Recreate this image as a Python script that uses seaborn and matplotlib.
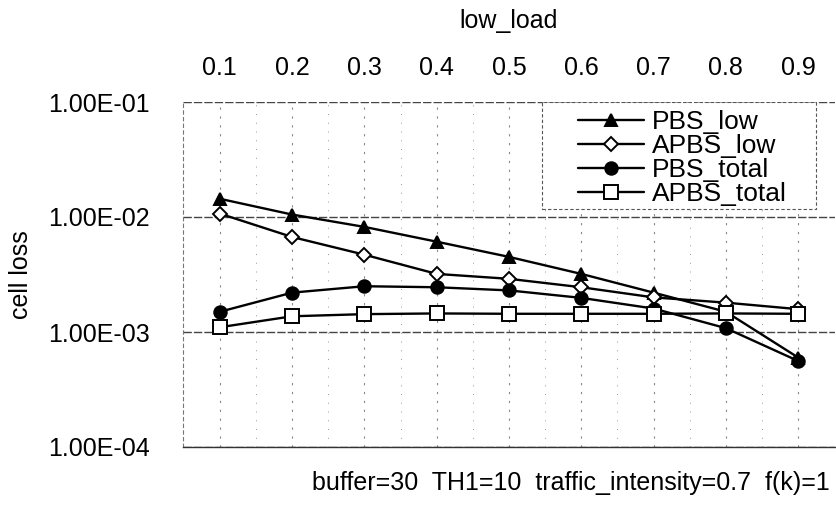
import matplotlib
matplotlib.use("Agg")
import matplotlib.pyplot as plt
import seaborn as sns
import pandas as pd
import numpy as np
from matplotlib.ticker import FixedLocator, NullLocator
from matplotlib.patches import Rectangle

# ---- data ----
low_load = [0.1, 0.2, 0.3, 0.4, 0.5, 0.6, 0.7, 0.8, 0.9]
x_labels = ["0.1", "0.2", "0.3", "0.4", "0.5", "0.6", "0.7", "0.8", "0.9"]
pbs_low = [0.0144, 0.0105, 0.0082, 0.0061, 0.0045, 0.0032, 0.0022, 0.0015, 0.00060]
apbs_low = [0.0107, 0.0067, 0.0047, 0.0032, 0.0029, 0.00245, 0.0020, 0.00180, 0.00158]
pbs_total = [0.00150, 0.00220, 0.00250, 0.00245, 0.00230, 0.00198, 0.00160, 0.00108, 0.00056]
apbs_total = [0.00110, 0.00137, 0.00143, 0.00145, 0.00144, 0.00144, 0.00144, 0.00145, 0.00144]
series_names = ["PBS_low", "APBS_low", "PBS_total", "APBS_total"]
y_ticks = [1e-1, 1e-2, 1e-3, 1e-4]
y_tick_labels = ["1.00E-01", "1.00E-02", "1.00E-03", "1.00E-04"]

sns.set_theme(style="white")
plt.rcParams["font.family"] = ["Liberation Sans", "DejaVu Sans"]
plt.rcParams["text.color"] = "black"
plt.rcParams["axes.labelcolor"] = "black"

W, H = 836, 516
fig = plt.figure(figsize=(W / 100, H / 100), dpi=100)
L, R, T, B = 183, 835, 102, 447
ax = fig.add_axes([L / W, 1 - B / H, (R - L) / W, (B - T) / H])

values = [pbs_low, apbs_low, pbs_total, apbs_total]
styles = [
    dict(marker="^", ms=9, mfc="black", mec="black"),
    dict(marker="D", ms=7, mfc="white", mec="black"),
    dict(marker="o", ms=9, mfc="black", mec="black"),
    dict(marker="s", ms=10, mfc="white", mec="black"),
]
for name, vals, st in zip(series_names, values, styles):
    df = pd.DataFrame({"low_load": low_load, "cell loss": vals})
    sns.lineplot(data=df, x="low_load", y="cell loss", ax=ax, color="black",
                 lw=1.7, label=name, marker=st["marker"], markersize=st["ms"],
                 markerfacecolor=st["mfc"], markeredgecolor=st["mec"],
                 markeredgewidth=1.4, zorder=3)

ax.set_yscale("log")
ax.set_ylim(1e-4, 1e-1)
ax.set_xlim(0.049, 0.951)
ax.yaxis.set_major_locator(FixedLocator(y_ticks))
ax.yaxis.set_minor_locator(NullLocator())
ax.set_yticklabels(y_tick_labels)
ax.set_xticks(low_load)
ax.set_xticklabels(x_labels)
ax.xaxis.tick_top()
ax.xaxis.set_label_position("top")
ax.tick_params(axis="both", length=0, labelsize=18, colors="black")
ax.tick_params(axis="x", pad=16)
ax.tick_params(axis="y", pad=24)
ax.set_xlabel("low_load", fontsize=18, labelpad=20, color="black")
ax.set_ylabel("cell loss", fontsize=18, color="black")
ax.yaxis.set_label_coords((33 - L) / (R - L), 0.5)

# grid lines
for yv in y_ticks:
    ax.axhline(yv, color="#444444", lw=1.0, ls=(0, (6, 1.5)), zorder=1)
for xv in low_load:
    ax.axvline(xv, color="#888888", lw=0.8, ls=(0, (2, 6)), zorder=0)
for xv in np.array(low_load[:-1]) + 0.05:
    ax.axvline(xv, color="#999999", lw=0.7, ls=(0, (1, 8)), zorder=0)

for s in ["top", "right"]:
    ax.spines[s].set_visible(False)
ax.spines["left"].set_color("#777777")
ax.spines["left"].set_linestyle((0, (3, 3)))
ax.spines["left"].set_linewidth(0.8)
ax.spines["bottom"].set_color("#333333")
ax.spines["bottom"].set_linewidth(1.0)

# legend (frame drawn separately to match the wide padded box)
leg = ax.legend(loc="upper left", bbox_to_anchor=((578 - L) / (R - L), 1.0 - 8 / (B - T)),
                fontsize=19, frameon=False, handlelength=2.5, handletextpad=0.3,
                labelspacing=0.0, borderpad=0.0, borderaxespad=0.0, labelcolor="black")
frame = Rectangle(((542 - L) / (R - L), 1 - (209 - T) / (B - T)),
                  (816 - 542) / (R - L), (209 - T) / (B - T),
                  transform=ax.transAxes, fill=True, facecolor="white",
                  edgecolor="#555555", lw=0.8, ls=(0, (3, 2)), zorder=4)
ax.add_patch(frame)
leg.set_zorder(5)

fig.text(830 / W, 1 - 483 / H, "buffer=30  TH1=10  traffic_intensity=0.7  f(k)=1",
         ha="right", va="center", fontsize=18, color="black")

fig.savefig("out.png", dpi=100)
